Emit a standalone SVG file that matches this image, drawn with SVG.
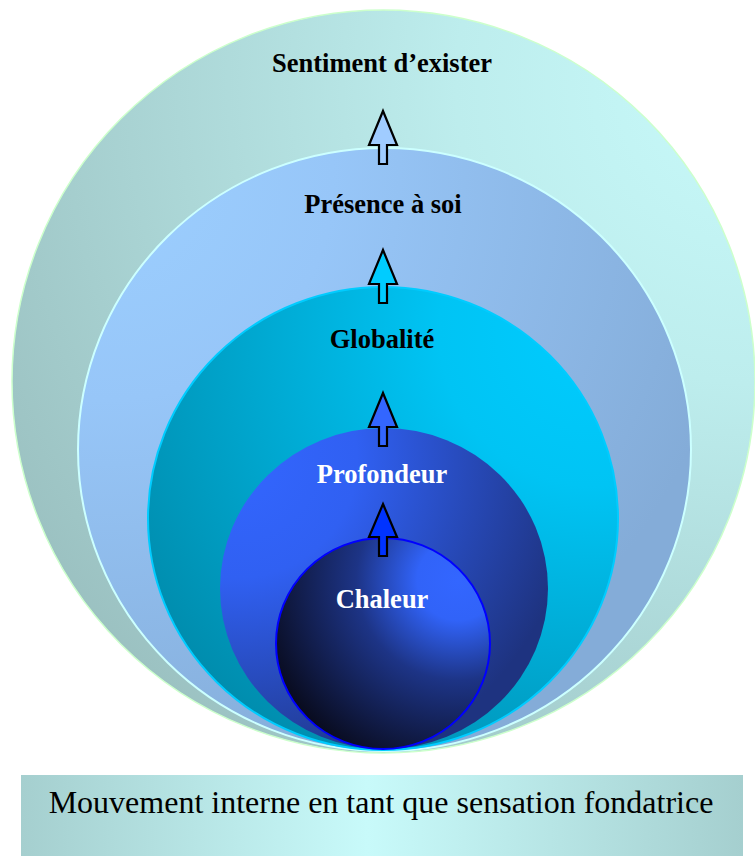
<svg xmlns="http://www.w3.org/2000/svg" width="755" height="856" viewBox="0 0 755 856">
<defs>
<radialGradient id="gOuter" cx="1" cy="0.1" r="1.15" fx="1" fy="0.1">
<stop offset="0" stop-color="#C8FAFA"/>
<stop offset="0.35" stop-color="#BDEDED"/>
<stop offset="1" stop-color="#9BC1C1"/>
</radialGradient>
<radialGradient id="gPres" cx="0.05" cy="0.05" r="1.05" fx="0.05" fy="0.05">
<stop offset="0" stop-color="#9CCFFF"/>
<stop offset="0.35" stop-color="#97C6F8"/>
<stop offset="1" stop-color="#84ACD8"/>
</radialGradient>
<radialGradient id="gGlob" cx="0.95" cy="0.1" r="1.1" fx="0.95" fy="0.1">
<stop offset="0" stop-color="#00CCFF"/>
<stop offset="0.3" stop-color="#00C4F4"/>
<stop offset="1" stop-color="#008DAE"/>
</radialGradient>
<radialGradient id="gProf" cx="0.05" cy="0.1" r="1.05" fx="0.05" fy="0.1">
<stop offset="0" stop-color="#3366FF"/>
<stop offset="0.35" stop-color="#3060F2"/>
<stop offset="1" stop-color="#1E3380"/>
</radialGradient>
<radialGradient id="gChal" cx="0.85" cy="0.2" r="0.95" fx="0.85" fy="0.2">
<stop offset="0" stop-color="#3366FF"/>
<stop offset="0.2" stop-color="#3163F8"/>
<stop offset="0.5" stop-color="#1D3486"/>
<stop offset="1" stop-color="#090C20"/>
</radialGradient>
<linearGradient id="gBox" x1="0" y1="0" x2="1" y2="0">
<stop offset="0" stop-color="#A5CFCF"/>
<stop offset="0.48" stop-color="#C8FAFA"/>
<stop offset="1" stop-color="#A5CFCF"/>
</linearGradient>
<style>
.lbl{font-family:"Liberation Serif","Times New Roman",serif;font-weight:bold;font-size:26.5px;text-anchor:middle}
.dark{fill:#000}
.light{fill:#FFFFFF}
.arrow{stroke:#000;stroke-width:2.2;stroke-linejoin:miter}
.foot{font-family:"Liberation Serif","Times New Roman",serif;font-size:32px;fill:#000;text-anchor:middle}
</style>
</defs>

<g id="node-sentiment">
<ellipse cx="383.5" cy="381.5" rx="371.5" ry="371.5" fill="url(#gOuter)" stroke="#CCFFCC" stroke-width="1.5"/>
<text class="lbl dark" x="382" y="72">Sentiment d’exister</text>
</g>
<g id="node-presence">
<ellipse cx="384.5" cy="449.5" rx="306.5" ry="301.5" fill="url(#gPres)" stroke="#CCFFFF" stroke-width="2"/>
<text class="lbl dark" x="383" y="213">Présence à soi</text>
</g>
<g id="node-globalite">
<ellipse cx="383" cy="518.5" rx="235" ry="231.5" fill="url(#gGlob)" stroke="#00CCFF" stroke-width="2"/>
<text class="lbl dark" x="382" y="348">Globalité</text>
</g>
<g id="node-profondeur">
<ellipse cx="384" cy="588.5" rx="164" ry="160.5" fill="url(#gProf)"/>
<text class="lbl light" x="382" y="483">Profondeur</text>
</g>
<g id="node-chaleur">
<ellipse cx="383" cy="643.5" rx="107" ry="105.5" fill="url(#gChal)" stroke="#0000FF" stroke-width="2"/>
<text class="lbl light" x="382" y="608">Chaleur</text>
</g>

<g id="connectors">
<path class="arrow" fill="#A0CCFF" d="M383,111 L397,145 L387,145 L387,164 L379,164 L379,145 L369,145 Z"/>
<path class="arrow" fill="#00CCFF" d="M383,250 L397,284 L387,284 L387,303 L379,303 L379,284 L369,284 Z"/>
<path class="arrow" fill="#3366FF" d="M383,393 L397,427 L387,427 L387,446 L379,446 L379,427 L369,427 Z"/>
<path class="arrow" fill="#0033FF" d="M383,504 L397,537 L387,537 L387,556 L379,556 L379,537 L369,537 Z"/>
</g>

<g id="node-mouvement">
<rect x="21" y="775" width="722" height="81" fill="url(#gBox)"/>
<text class="foot" x="381" y="813">Mouvement interne en tant que sensation fondatrice</text>
</g>
</svg>
